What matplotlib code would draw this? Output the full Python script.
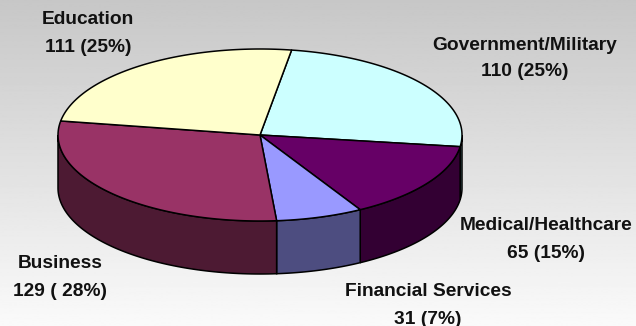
import matplotlib

matplotlib.use("Agg")
import matplotlib.pyplot as plt
import numpy as np

# clockwise from the top of the pie
categories = ["Government/Military", "Medical/Healthcare", "Financial Services", "Business", "Education"]
counts = [110, 65, 31, 129, 111]
value_labels = ["110 (25%)", "65 (15%)", "31 (7%)", "129 ( 28%)", "111 (25%)"]
top_colors = ["#CCFFFF", "#660066", "#9999FF", "#993366", "#FFFFCC"]
side_colors = ["#669999", "#330033", "#4D4D80", "#4D1A33", "#808066"]
label_centers = [(525, 45), (546, 226), (428, 292), (60, 264), (88, 20)]

W, H = 636, 326
CX, CY, RX, RY = 260, 135, 202, 86
DEPTH = 53
START_ANGLE = 81

plt.rcParams["font.family"] = ["Liberation Sans", "DejaVu Sans"]

fig = plt.figure(figsize=(W / 100, H / 100), dpi=100)
ax = fig.add_axes([0, 0, 1, 1])
ax.set_xlim(0, W)
ax.set_ylim(H, 0)
ax.axis("off")

# vertical grey gradient behind everything
gradient = np.linspace(0.78, 0.98, 256).reshape(-1, 1)
ax.imshow(gradient, extent=(0, W, H, 0), cmap="gray", vmin=0, vmax=1, aspect="auto", zorder=0)


def rim(t0, t1, n=80):
    t = np.radians(np.linspace(t0, t1, n))
    return CX + RX * np.cos(t), CY - RY * np.sin(t)


angles = START_ANGLE - np.cumsum([0] + counts) / sum(counts) * 360

# side wall, only the part of the rim facing the viewer
for i, color in enumerate(side_colors):
    t0 = min(angles[i], 0)
    t1 = max(angles[i + 1], -180)
    if t0 <= t1:
        continue
    x, y = rim(t0, t1)
    ax.fill(
        np.r_[x, x[::-1]],
        np.r_[y, y[::-1] + DEPTH],
        facecolor=color,
        edgecolor="black",
        linewidth=1.1,
        zorder=2,
    )

# top face
for i, color in enumerate(top_colors):
    x, y = rim(angles[i], angles[i + 1])
    ax.fill(
        np.r_[CX, x],
        np.r_[CY, y],
        facecolor=color,
        edgecolor="black",
        linewidth=1.1,
        joinstyle="round",
        zorder=3,
    )

for name, value, (lx, ly) in zip(categories, value_labels, label_centers):
    ax.text(lx, ly, name, ha="center", va="center", fontsize=13.8, fontweight="bold", color="#111111", zorder=4)
    ax.text(lx, ly + 27, value, ha="center", va="center", fontsize=13.8, fontweight="bold", color="#111111", zorder=4)

fig.savefig("out.png", dpi=100)
